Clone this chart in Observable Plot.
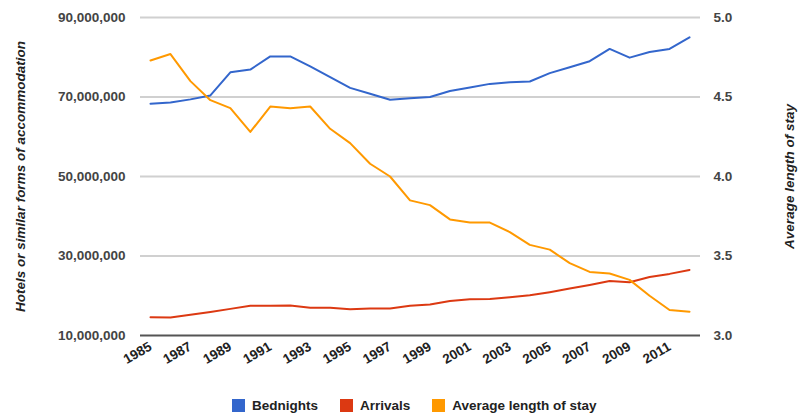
<!DOCTYPE html>
<html>
<head>
<meta charset="utf-8">
<script src="https://cdn.jsdelivr.net/npm/d3@7"></script>
<script src="https://cdn.jsdelivr.net/npm/@observablehq/plot@0.6"></script>
<style>
  body { margin: 0; background: #fff; font-family: Arial, "Liberation Sans", sans-serif; }
  #wrap { position: relative; width: 798px; height: 414px; overflow: hidden; }
  .legend { position: absolute; left: 232px; top: 398px; display: flex; align-items: center;
            font-weight: bold; font-size: 13.5px; color: #222; }
  .legend .item { display: flex; align-items: center; margin-right: 22px; }
  .legend .sw { display: inline-block; width: 13px; height: 13px; margin-right: 7px; }
</style>
</head>
<body>
<div id="wrap"></div>
<script>
// Tourism in hotels and similar accommodation, 1985–2012
const years = [1985, 1986, 1987, 1988, 1989, 1990, 1991, 1992, 1993, 1994, 1995, 1996, 1997, 1998,
               1999, 2000, 2001, 2002, 2003, 2004, 2005, 2006, 2007, 2008, 2009, 2010, 2011, 2012];
const bednights = [68.3, 68.6, 69.4, 70.4, 76.2, 76.9, 80.2, 80.2, 77.7, 75.0, 72.3, 70.8, 69.3, 69.7,
                   70.0, 71.5, 72.4, 73.3, 73.7, 73.9, 76.0, 77.5, 79.0, 82.1, 79.9, 81.3, 82.1, 85.0]
                   .map(v => v * 1e6);
const arrivals = [14.6, 14.5, 15.2, 15.9, 16.7, 17.5, 17.5, 17.55, 17.0, 17.0, 16.6, 16.8, 16.8, 17.5,
                  17.8, 18.7, 19.1, 19.2, 19.6, 20.1, 20.9, 21.8, 22.7, 23.7, 23.4, 24.7, 25.5, 26.5]
                  .map(v => v * 1e6);
const avgStay = [4.73, 4.77, 4.60, 4.48, 4.43, 4.28, 4.44, 4.43, 4.44, 4.30, 4.21, 4.08, 4.00, 3.85,
                 3.82, 3.73, 3.71, 3.71, 3.65, 3.57, 3.54, 3.455, 3.40, 3.39, 3.35, 3.25, 3.16, 3.15];

const leftTicks = [10e6, 30e6, 50e6, 70e6, 90e6];
const rightTicks = [3.0, 3.5, 4.0, 4.5, 5.0];
const xTicks = [1985, 1987, 1989, 1991, 1993, 1995, 1997, 1999, 2001, 2003, 2005, 2007, 2009, 2011];

const seriesNames = ["Bednights", "Arrivals", "Average length of stay"];
const seriesColors = ["#3366cc", "#dc3912", "#ff9900"];
const leftTitle = "Hotels or similar forms of accommodation";
const rightTitle = "Average length of stay";

// The right-hand axis (nights) shares the left scale through a linear mapping
const toLeft = v => 10e6 + (v - 3) * 40e6;
const fromLeft = v => (v - 10e6) / 40e6 + 3;

const rows = years.map((year, i) => ({
  year, bednights: bednights[i], arrivals: arrivals[i], stay: toLeft(avgStay[i])
}));

const chart = Plot.plot({
  width: 798,
  height: 390,
  marginLeft: 140,
  marginRight: 98,
  marginTop: 17,
  marginBottom: 55,
  style: { fontFamily: "Arial, 'Liberation Sans', sans-serif", fontSize: "13.5px", fontWeight: "bold", color: "#444", background: "#fff" },
  x: { domain: [1985, 2012], range: [150, 689] },
  y: { domain: [10e6, 90e6] },
  marks: [
    Plot.ruleY(leftTicks.slice(1), { stroke: "#d0d0d0", strokeWidth: 2 }),
    Plot.ruleY([leftTicks[0]], { stroke: "#555", strokeWidth: 2 }),
    Plot.axisY(leftTicks, { anchor: "left", tickSize: 0, tickPadding: 15, tickFormat: d3.format(","), label: null }),
    Plot.axisY(rightTicks.map(toLeft), { anchor: "right", tickSize: 0, tickPadding: 13,
      tickFormat: d => fromLeft(d).toFixed(1), label: null }),
    Plot.axisX(xTicks, { tickSize: 0, tickPadding: 10, tickRotate: -30, tickFormat: d => String(d), label: null, fill: "#222" }),
    Plot.line(rows, { x: "year", y: "bednights", stroke: seriesColors[0], strokeWidth: 2 }),
    Plot.line(rows, { x: "year", y: "arrivals", stroke: seriesColors[1], strokeWidth: 2 }),
    Plot.line(rows, { x: "year", y: "stay", stroke: seriesColors[2], strokeWidth: 2 }),
    Plot.text([leftTitle], { frameAnchor: "left", dx: -120, rotate: -90, textAnchor: "middle",
      fontStyle: "italic", fill: "#222", fontSize: 13.5 }),
    Plot.text([rightTitle], { frameAnchor: "right", dx: 89, rotate: -90, textAnchor: "middle",
      fontStyle: "italic", fill: "#222", fontSize: 13.5 })
  ]
});

const wrap = document.getElementById("wrap");
wrap.appendChild(chart);

const legend = document.createElement("div");
legend.className = "legend";
seriesNames.forEach((name, i) => {
  const item = document.createElement("div");
  item.className = "item";
  const sw = document.createElement("span");
  sw.className = "sw";
  sw.style.background = seriesColors[i];
  item.appendChild(sw);
  item.appendChild(document.createTextNode(name));
  legend.appendChild(item);
});
wrap.appendChild(legend);
</script>
</body>
</html>
